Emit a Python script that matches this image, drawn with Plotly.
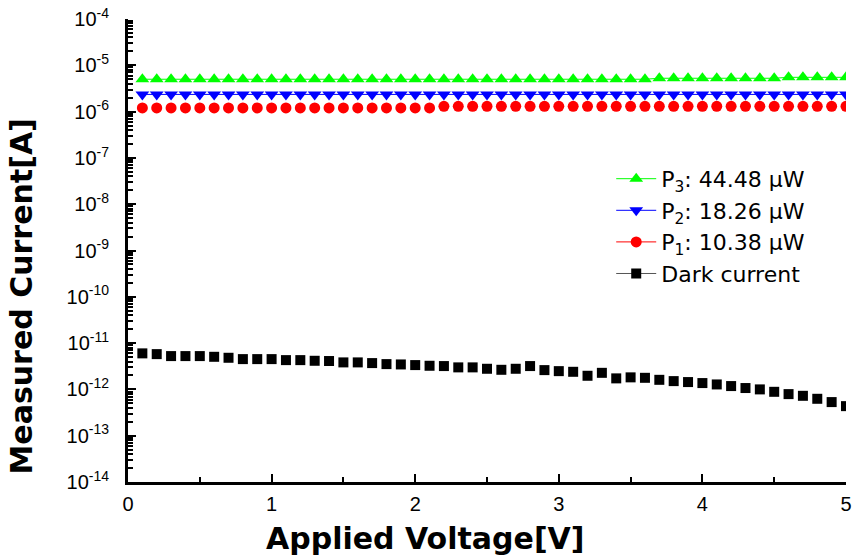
import plotly.graph_objects as go

voltage = [round(0.1 * i, 1) for i in range(1, 51)]

p3_current = [5.0e-6] * 36 + [5.25e-6] * 9 + [5.5e-6] * 5
p2_current = [2.35e-6] * 50
p1_current = [1.2e-6] * 21 + [1.3e-6] * 29
dark_current = [
    6.0e-12, 5.78e-12, 5.24e-12, 5.24e-12, 5.24e-12, 5.06e-12, 4.82e-12, 4.51e-12, 4.51e-12, 4.51e-12,
    4.29e-12, 4.29e-12, 4.15e-12, 4.10e-12, 3.83e-12, 3.83e-12, 3.70e-12, 3.52e-12, 3.46e-12, 3.35e-12,
    3.24e-12, 3.19e-12, 2.99e-12, 2.99e-12, 2.79e-12, 2.65e-12, 2.79e-12, 3.19e-12, 2.61e-12, 2.48e-12,
    2.40e-12, 1.97e-12, 2.28e-12, 1.73e-12, 1.82e-12, 1.78e-12, 1.61e-12, 1.51e-12, 1.44e-12, 1.37e-12,
    1.28e-12, 1.18e-12, 1.07e-12, 1.00e-12, 8.87e-13, 7.91e-13, 7.27e-13, 6.27e-13, 5.32e-13, 4.35e-13,
]

series_names = [
    "P<sub>3</sub>: 44.48 μW",
    "P<sub>2</sub>: 18.26 μW",
    "P<sub>1</sub>: 10.38 μW",
    "Dark current",
]
x_title = "Applied Voltage[V]"
y_title = "Measured Current[A]"

y_tickvals = [10.0 ** e for e in range(-14, -3)]
y_ticktext = ["10<sup>%d</sup>" % e for e in range(-14, -3)]
x_tickvals = [0, 1, 2, 3, 4, 5]
x_ticktext = ["0", "1", "2", "3", "4", "5"]

series = [
    (p3_current, series_names[0], "#00FF00", "#00FF00", "triangle-up", 12, "lines+markers"),
    (p2_current, series_names[1], "#0000FF", "#0000FF", "triangle-down", 12, "lines+markers"),
    (p1_current, series_names[2], "#FF0000", "#FF0000", "circle", 11, "markers"),
    (dark_current, series_names[3], "#555555", "#000000", "square", 10, "markers"),
]

fig = go.Figure()
for values, name, lcolor, mcolor, symbol, size, mode in series:
    # data as drawn in the plot (markers only for P1 and dark current, as in the original)
    fig.add_trace(go.Scatter(x=voltage, y=values, name=name, mode=mode, showlegend=False,
                             legendgroup=name, line=dict(color=lcolor, width=1),
                             marker=dict(symbol=symbol, size=size, color=mcolor)))
for values, name, lcolor, mcolor, symbol, size, mode in series:
    # legend entries show line + symbol
    fig.add_trace(go.Scatter(x=[None], y=[None], name=name, mode="lines+markers",
                             legendgroup=name, line=dict(color=lcolor, width=1),
                             marker=dict(symbol=symbol, size=size, color=mcolor)))

fig.update_layout(
    width=854, height=558,
    margin=dict(l=128, r=8, t=19, b=76),
    paper_bgcolor="white", plot_bgcolor="white",
    font=dict(family="DejaVu Sans, Arial", color="black"),
    showlegend=True,
    legend=dict(x=0.673, y=0.70, xanchor="left", yanchor="top",
                bgcolor="rgba(0,0,0,0)", font=dict(family="DejaVu Sans", size=22, color="black"),
                tracegroupgap=0, itemwidth=40),
    annotations=[
        dict(text="<b>%s</b>" % x_title, xref="paper", yref="paper", x=0.415, y=-0.08,
             xanchor="center", yanchor="top", showarrow=False,
             font=dict(family="DejaVu Sans", size=30, color="black")),
        dict(text="<b>%s</b>" % y_title, xref="paper", yref="paper", x=-0.148, y=0.40,
             xanchor="center", yanchor="middle", showarrow=False, textangle=-90,
             font=dict(family="DejaVu Sans", size=30, color="black")),
    ],
)

fig.update_xaxes(
    range=[0, 5], tickmode="array", tickvals=x_tickvals, ticktext=x_ticktext,
    showgrid=False, zeroline=False, showline=True, linecolor="black", linewidth=3,
    ticks="inside", ticklen=8, tickwidth=2, tickcolor="black", automargin=False,
    tickfont=dict(family="Liberation Sans, Arial", size=20, color="black"),
    ticklabelstandoff=2,
    minor=dict(dtick=0.5, ticks="inside", ticklen=5, tickwidth=2, tickcolor="black"),
)
fig.update_yaxes(
    type="log", range=[-14, -4], tickmode="array", tickvals=y_tickvals, ticktext=y_ticktext,
    showgrid=False, zeroline=False, showline=True, linecolor="black", linewidth=3,
    ticks="inside", ticklen=8, tickwidth=2, tickcolor="black", automargin=False,
    tickfont=dict(family="Liberation Sans, Arial", size=20, color="black"),
    ticklabelstandoff=12,
    minor=dict(dtick="D1", ticks="inside", ticklen=5, tickwidth=1.5, tickcolor="black"),
)

# remove the browser's default 8px body margin so the figure fills the window exactly
fig.write_html("out.html", config={"displayModeBar": False},
               post_script="document.body.style.margin='0px';")
